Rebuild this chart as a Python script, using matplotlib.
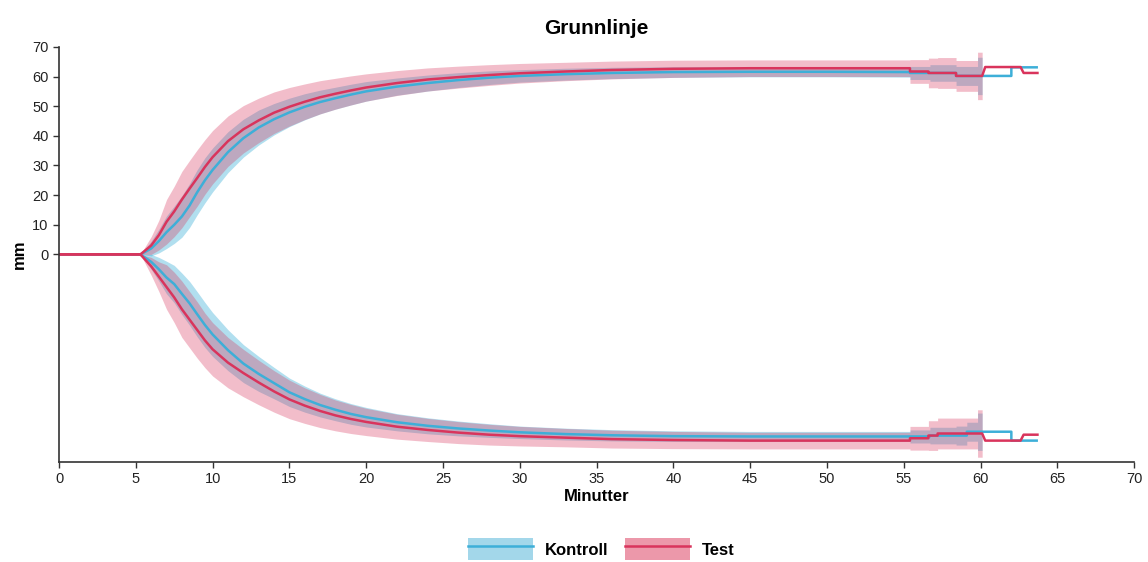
import matplotlib

matplotlib.use("Agg")
import matplotlib.pyplot as plt
from matplotlib.lines import Line2D
from matplotlib.patches import Patch

plt.rcParams["font.family"] = ["Liberation Sans", "DejaVu Sans"]

# Kontroll (mean curves above and below zero, band half-width)
TIME_KONTROLL = [0, 5.3, 6, 6.5, 7, 7.5, 8, 8.5, 9, 9.5, 10, 11, 12, 13, 14, 15, 16, 17, 18, 19,
                 20, 22, 24, 26, 28, 30, 33, 36, 40, 45, 50, 55.4, 55.4, 56.7, 56.7, 58.4, 58.4,
                 59.1, 59.1, 59.8, 59.8, 60.1]
UP_KONTROLL = [0, 0, 2, 4.5, 7.5, 10, 12.8, 16.5, 21, 25, 28.5, 34.5, 39.2, 42.8, 45.6, 47.9, 49.8,
               51.4, 52.7, 53.9, 55, 56.6, 57.8, 58.8, 59.6, 60.2, 60.8, 61.2, 61.5, 61.6, 61.6,
               61.5, 61.2, 61.2, 61.2, 61.2, 60.2, 60.2, 60.2, 60.2, 60.2, 60.2]
LOW_KONTROLL = [0, 0, -2.5, -5, -7.8, -10, -13.3, -16.5, -20.2, -23.8, -27, -32.3, -36.8, -40.3,
                -43.4, -46.5, -48.8, -50.8, -52.4, -53.8, -54.9, -56.6, -57.8, -58.7, -59.4, -60,
                -60.6, -61, -61.3, -61.4, -61.4, -61.4, -61.4, -61.4, -61.1, -61.1, -61.1, -61.1,
                -59.8, -59.8, -59.8, -59.8]
SD_KONTROLL = [0, 0, 2.5, 4, 5.5, 6.3, 7, 7.4, 7.6, 7.6, 7.4, 6.9, 6.4, 5.9, 5.3, 4.8, 4.4, 4.0,
               3.7, 3.5, 3.3, 2.9, 2.7, 2.5, 2.3, 2.1, 2, 1.9, 1.8, 1.7, 1.7, 1.7, 2.2, 2.2, 2.8,
               2.8, 3.2, 3.2, 3.2, 3.2, 6.3, 6.3]
TAIL_TIME_KONTROLL = [60.1, 62.0, 62.0, 63.65]
TAIL_UP_KONTROLL = [60.2, 60.2, 63.1, 63.1]
TAIL_LOW_KONTROLL = [-59.8, -59.8, -62.8, -62.8]

# Test
TIME_TEST = [0, 5.3, 6, 6.5, 7, 7.5, 8, 8.5, 9, 9.5, 10, 11, 12, 13, 14, 15, 16, 17, 18, 19,
             20, 22, 24, 26, 28, 30, 33, 36, 40, 45, 50, 55.4, 55.4, 56.6, 56.6, 57.2, 57.2,
             58.4, 58.4, 59.8, 59.8, 60.1]
UP_TEST = [0, 0, 3, 6.5, 11, 14.5, 18.5, 22.2, 25.8, 29.5, 32.8, 38.2, 42.2, 45.2, 47.8, 49.8,
           51.5, 53, 54.2, 55.3, 56.3, 57.8, 59, 59.8, 60.5, 61.1, 61.7, 62.2, 62.6, 62.8, 62.8,
           62.8, 61.7, 61.7, 61.2, 61.2, 61.2, 61.2, 60.2, 60.2, 60.2, 60.2]
LOW_TEST = [0, 0, -4, -7.5, -11, -14.5, -18.5, -22, -25.5, -29, -32, -36.5, -40, -43.2, -46.2,
            -48.9, -51, -52.8, -54.3, -55.5, -56.5, -58.1, -59.2, -60.1, -60.8, -61.3, -61.8,
            -62.3, -62.6, -62.8, -62.8, -62.8, -62, -62, -61.1, -61.1, -60.4, -60.4, -60.4,
            -60.4, -60.4, -60.4]
SD_TEST = [0, 0, 3, 5, 7.5, 8.5, 9.5, 9.5, 9.5, 9.2, 9, 8.5, 8, 7.5, 7, 6.5, 6, 5.6, 5.2, 4.9,
           4.6, 4.2, 3.9, 3.7, 3.5, 3.3, 3.1, 3, 2.9, 2.8, 2.8, 2.8, 4, 4, 5, 5, 5.2, 5.2, 5.2,
           5.2, 8, 8]
TAIL_TIME_TEST = [60.1, 60.3, 62.6, 62.8, 63.7]
TAIL_UP_TEST = [60.2, 63.2, 63.2, 61.2, 61.2]
TAIL_LOW_TEST = [-60.4, -62.8, -62.8, -60.8, -60.8]

X_TICKS = list(range(0, 75, 5))
Y_TICKS = list(range(0, 80, 10))

BLUE = "#3dafd8"
RED = "#d9345c"


def main():
    fig = plt.figure(figsize=(11.48, 5.62), dpi=100)
    ax = fig.add_axes([0.0514, 0.178, 0.9366, 0.7386])

    groups = [
        ("Kontroll", BLUE, 0.4, TIME_KONTROLL, UP_KONTROLL, LOW_KONTROLL, SD_KONTROLL,
         TAIL_TIME_KONTROLL, TAIL_UP_KONTROLL, TAIL_LOW_KONTROLL),
        ("Test", RED, 0.32, TIME_TEST, UP_TEST, LOW_TEST, SD_TEST,
         TAIL_TIME_TEST, TAIL_UP_TEST, TAIL_LOW_TEST),
    ]
    for name, color, alpha, t, up, low, sd, tt, tu, tl in groups:
        for mean in (up, low):
            lo = [m - s for m, s in zip(mean, sd)]
            hi = [m + s for m, s in zip(mean, sd)]
            ax.fill_between(t, lo, hi, color=color, alpha=alpha, linewidth=0)
    for name, color, alpha, t, up, low, sd, tt, tu, tl in groups:
        ax.plot(t + tt, up + tu, color=color, linewidth=1.8)
        ax.plot(t + tt, low + tl, color=color, linewidth=1.8)

    ax.set_xlim(0, 70)
    ax.set_ylim(-70, 70)
    ax.set_xticks(X_TICKS)
    ax.set_yticks(Y_TICKS)
    ax.tick_params(colors="#333333", labelsize=10.5, length=4, width=1, labelcolor="#222222")
    for side in ("top", "right"):
        ax.spines[side].set_visible(False)
    for side in ("left", "bottom"):
        ax.spines[side].set_color("#333333")
        ax.spines[side].set_linewidth(1.2)

    ax.set_title("Grunnlinje", fontsize=15, fontweight="bold", pad=9)
    ax.set_xlabel("Minutter", fontsize=12, fontweight="bold", labelpad=2)
    ax.set_ylabel("mm", fontsize=12, fontweight="bold", labelpad=4)

    handles = [
        (Patch(facecolor="#a3d7ea", edgecolor="none"), Line2D([], [], color=BLUE, linewidth=1.8)),
        (Patch(facecolor="#ec98aa", edgecolor="none"), Line2D([], [], color=RED, linewidth=1.8)),
    ]
    fig.legend(
        handles,
        ["Kontroll", "Test"],
        loc="center",
        bbox_to_anchor=(0.524, 0.023),
        ncol=2,
        frameon=False,
        handlelength=3.9,
        handleheight=1.6,
        handletextpad=0.7,
        columnspacing=1.0,
        prop={"weight": "bold", "size": 12},
    )

    fig.savefig("out.png", dpi=100)


if __name__ == "__main__":
    main()
